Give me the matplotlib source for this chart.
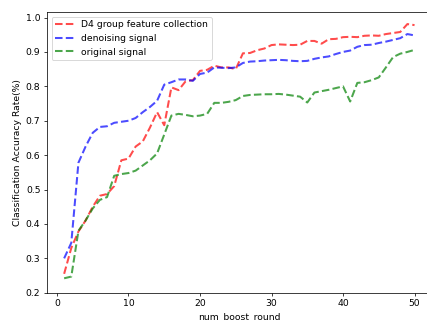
import matplotlib
matplotlib.use("Agg")
import matplotlib.pyplot as plt
import numpy as np

# boosting rounds
rounds = np.arange(1, 51)

# accuracy of the D4 group feature collection
acc_d4 = [0.255, 0.330, 0.378, 0.410, 0.450, 0.482, 0.487, 0.510, 0.585, 0.590,
          0.625, 0.640, 0.680, 0.725, 0.687, 0.797, 0.789, 0.815, 0.818, 0.845,
          0.848, 0.860, 0.855, 0.855, 0.850, 0.896, 0.897, 0.905, 0.910, 0.920,
          0.922, 0.921, 0.920, 0.921, 0.932, 0.932, 0.924, 0.937, 0.938, 0.943,
          0.944, 0.943, 0.947, 0.948, 0.947, 0.952, 0.955, 0.958, 0.981, 0.978]

# accuracy of the denoising signal
acc_denoise = [0.300, 0.345, 0.578, 0.625, 0.665, 0.682, 0.684, 0.694, 0.697, 0.700,
               0.708, 0.725, 0.740, 0.758, 0.805, 0.812, 0.820, 0.820, 0.816, 0.836,
               0.840, 0.855, 0.854, 0.853, 0.855, 0.868, 0.872, 0.873, 0.875, 0.876,
               0.877, 0.876, 0.874, 0.873, 0.874, 0.880, 0.884, 0.887, 0.894, 0.900,
               0.904, 0.915, 0.920, 0.921, 0.926, 0.930, 0.935, 0.940, 0.952, 0.948]

# accuracy of the original signal
acc_orig = [0.242, 0.247, 0.380, 0.410, 0.445, 0.470, 0.478, 0.540, 0.545, 0.548,
            0.555, 0.570, 0.585, 0.605, 0.660, 0.715, 0.720, 0.717, 0.713, 0.715,
            0.720, 0.752, 0.752, 0.755, 0.760, 0.772, 0.775, 0.776, 0.777, 0.777,
            0.778, 0.776, 0.773, 0.770, 0.753, 0.782, 0.786, 0.790, 0.795, 0.800,
            0.756, 0.810, 0.812, 0.818, 0.826, 0.855, 0.885, 0.895, 0.900, 0.906]

# figure is 427x321 px, the right edge of the axes is cut off
dpi = 100 / 1.5
fig = plt.figure(figsize=(427 / dpi, 321 / dpi), dpi=dpi)
ax = fig.add_axes([0.110, 0.088, 0.901, 0.8745])

ax.plot(rounds, acc_d4, "r--", alpha=0.7, lw=2.2, label="D4 group feature collection")
ax.plot(rounds, acc_denoise, "b--", alpha=0.7, lw=2.2, label="denoising signal")
ax.plot(rounds, acc_orig, "g--", alpha=0.7, lw=2.2, label="original signal")

ax.set_xlim(-1.4, 52.4)
ax.set_ylim(0.2, 1.016)
ax.spines["right"].set_visible(False)
ax.set_xlabel("num_boost_round")
ax.set_ylabel("Classification Accuracy Rate(%)")
ax.legend(loc="upper left")

fig.savefig("out.png", dpi=dpi)
